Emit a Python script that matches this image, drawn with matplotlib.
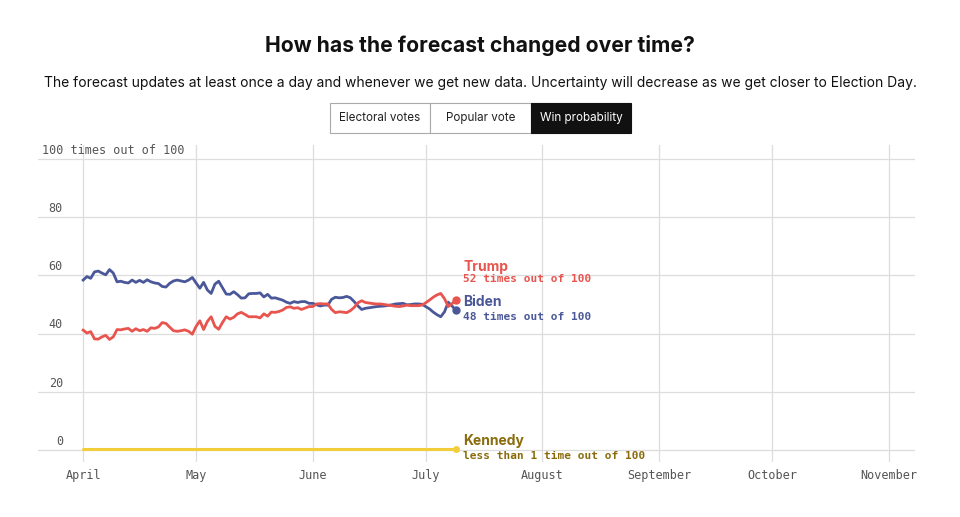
import matplotlib.pyplot as plt
import matplotlib.transforms as mtransforms
from matplotlib.patches import Rectangle
import pandas as pd

ROUGE = '#E8544E'
BLEU = '#4A5899'
JAUNE = '#F2CF3A'
OR_FONCE = '#8A6C0C'
GRIS_TXT = '#555555'
GRILLE = '#DDDDDD'

# Données : probabilité de victoire quotidienne, à partir du 1er avril 2024
debut = '2024-04-01'
biden = [58.4, 59.6, 59.0, 61.2, 61.5, 60.8, 60.2, 62.0, 60.8, 57.8,
         58.0, 57.6, 57.4, 58.4, 57.6, 58.3, 57.6, 58.5, 57.8, 57.4,
         57.2, 56.2, 56.0, 57.3, 58.1, 58.4, 58.1, 57.8, 58.4, 59.3,
         57.4, 55.6, 57.6, 55.0, 53.8, 57.0, 58.0, 55.8, 53.6, 53.5,
         54.4, 53.4, 52.2, 52.3, 53.7, 53.8, 53.8, 54.0, 52.6, 53.5,
         52.2, 52.3, 51.9, 51.5, 50.8, 50.4, 51.0, 50.7, 51.0, 51.0,
         50.4, 50.4, 49.9, 49.5, 49.8, 49.8, 51.8, 52.5, 52.3, 52.4,
         52.8, 52.3, 51.0, 49.5, 48.3, 48.7, 48.9, 49.1, 49.3, 49.4,
         49.5, 49.7, 49.9, 50.2, 50.3, 50.4, 49.9, 50.0, 50.2, 50.2,
         50.1, 49.3, 48.5, 47.4, 46.5, 45.8, 47.5, 50.8, 49.5, 48.0]
trump = [41.2, 40.2, 40.7, 38.2, 38.1, 38.9, 39.4, 38.0, 38.9, 41.4,
         41.3, 41.6, 41.8, 40.8, 41.7, 41.0, 41.4, 40.8, 42.0, 41.8,
         42.3, 43.8, 43.5, 42.2, 41.0, 40.8, 41.0, 41.3, 40.8, 39.8,
         42.5, 44.4, 41.4, 44.2, 45.8, 42.5, 41.5, 43.8, 45.8, 45.0,
         45.6, 46.8, 47.3, 46.6, 45.8, 45.8, 45.8, 45.4, 46.8, 46.0,
         47.4, 47.3, 47.6, 48.1, 49.0, 49.2, 48.7, 48.9, 48.3, 48.8,
         49.3, 49.3, 50.2, 50.3, 50.2, 50.2, 48.3, 47.2, 47.5, 47.4,
         47.2, 47.9, 49.0, 50.6, 51.3, 50.7, 50.5, 50.3, 50.2, 50.2,
         50.0, 49.8, 49.6, 49.4, 49.3, 49.5, 49.8, 49.6, 49.6, 49.6,
         49.8, 50.6, 51.5, 52.5, 53.3, 53.8, 52.0, 49.3, 50.3, 51.5]
kennedy_dates = ['2024-04-01', '2024-07-09']
kennedy = [0.3, 0.3]

mois = ['April', 'May', 'June', 'July', 'August', 'September', 'October', 'November']
mois_dates = ['2024-04-01', '2024-05-01', '2024-06-01', '2024-07-01',
              '2024-08-01', '2024-09-01', '2024-10-01', '2024-11-01']
y_ticks = [0, 20, 40, 60, 80, 100]
boutons = ['Electoral votes', 'Popular vote', 'Win probability']

dates = pd.date_range(debut, periods=len(biden), freq='D')
k_dates = pd.to_datetime(kennedy_dates)

fig = plt.figure(figsize=(9.6, 5.17), dpi=100)
fig.patch.set_facecolor('white')
ax = fig.add_axes([38 / 960, 55 / 517, 877 / 960, 317 / 517])

# grille
for d in pd.to_datetime(mois_dates):
    ax.axvline(d, color=GRILLE, lw=0.9, zorder=0)
for v in y_ticks:
    ax.axhline(v, color=GRILLE, lw=0.9, zorder=0)

ax.plot(k_dates, kennedy, color=JAUNE, lw=2.2, solid_capstyle='round', zorder=3)
ax.plot(k_dates[-1], kennedy[-1], 'o', color=JAUNE, ms=4, zorder=4)
ax.plot(dates, biden, color=BLEU, lw=2, zorder=3)
ax.plot(dates, trump, color=ROUGE, lw=2, zorder=3)
ax.plot(dates[-1], biden[-1], 'o', color=BLEU, ms=5, zorder=4)
ax.plot(dates[-1], trump[-1], 'o', color=ROUGE, ms=5, zorder=4)

ax.set_xlim(pd.Timestamp('2024-03-20'), pd.Timestamp('2024-11-08'))
ax.set_ylim(-4.1, 104.8)
for s in ax.spines.values():
    s.set_visible(False)
ax.set_yticks([])
ax.set_xticks(pd.to_datetime(mois_dates))
ax.set_xticklabels(mois, family='DejaVu Sans Mono', fontsize=8.5, color=GRIS_TXT)
ax.tick_params(axis='x', length=0, pad=5)

# étiquettes de l'axe y, au-dessus des lignes
trans = mtransforms.blended_transform_factory(ax.transAxes, ax.transData)
for v in y_ticks:
    if v == 100:
        ax.text(0.0046, v + 0.8, '100 times out of 100', transform=trans, ha='left', va='bottom',
                family='DejaVu Sans Mono', fontsize=8.5, color=GRIS_TXT)
    else:
        ax.text(0.0285, v + 0.8, str(v), transform=trans, ha='right', va='bottom',
                family='DejaVu Sans Mono', fontsize=8.5, color=GRIS_TXT)

# étiquettes des candidats
x_lab = dates[-1] + pd.Timedelta(days=2)
ax.text(x_lab, 63.0, 'Trump', color=ROUGE, fontsize=10, fontweight='bold', family='Inter', va='center')
ax.text(x_lab, 58.8, '52 times out of 100', color=ROUGE, fontsize=8, fontweight='bold',
        family='DejaVu Sans Mono', va='center')
ax.text(x_lab, 50.8, 'Biden', color=BLEU, fontsize=10, fontweight='bold', family='Inter', va='center')
ax.text(x_lab, 45.7, '48 times out of 100', color=BLEU, fontsize=8, fontweight='bold',
        family='DejaVu Sans Mono', va='center')
ax.text(x_lab, 3.1, 'Kennedy', color=OR_FONCE, fontsize=10, fontweight='bold', family='Inter', va='center')
ax.text(x_lab, -1.9, 'less than 1 time out of 100', color=OR_FONCE, fontsize=8, fontweight='bold',
        family='DejaVu Sans Mono', va='center')

# titres
fig.text(0.5, 1 - 45 / 517, 'How has the forecast changed over time?', ha='center', va='center',
         fontsize=15.2, fontweight='bold', family='Inter', color='#111111')
fig.text(0.5, 1 - 83 / 517,
         'The forecast updates at least once a day and whenever we get new data. '
         'Uncertainty will decrease as we get closer to Election Day.',
         ha='center', va='center', fontsize=10.0, family='Inter', color='#111111')

# boutons
bords = [330, 430, 531, 631]
y0, y1 = 1 - 133 / 517, 1 - 103 / 517
for i, lab in enumerate(boutons):
    x0 = bords[i] / 960
    w = (bords[i + 1] - bords[i]) / 960
    actif = i == len(boutons) - 1
    fig.patches.append(Rectangle((x0, y0), w, y1 - y0, transform=fig.transFigure,
                                 facecolor='#111111' if actif else 'white',
                                 edgecolor='#111111' if actif else '#AAAAAA', lw=0.8))
    fig.text(x0 + w / 2, (y0 + y1) / 2, lab, ha='center', va='center', fontsize=8.4,
             family='Inter', color='white' if actif else '#222222')

plt.savefig('out.png', dpi=100, facecolor='white')
